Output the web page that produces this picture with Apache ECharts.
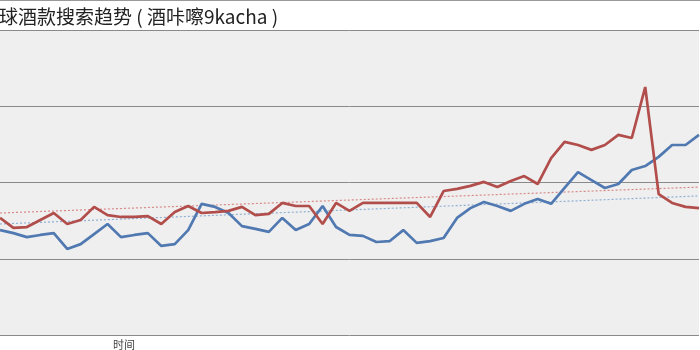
<!DOCTYPE html>
<html>
<head>
<meta charset="utf-8">
<script src="https://cdn.jsdelivr.net/npm/echarts@6/dist/echarts.min.js"></script>
<style>html,body{margin:0;padding:0;background:#fff;}#c{width:700px;height:350px;}</style>
</head>
<body>
<div id="c"></div>
<script>
var titleText = '球酒款搜索趋势 ( 酒咔嚓9kacha )';
var xName = '时间';
var weeks = [];
for (var k = 1; k <= 53; k++) { weeks.push('W' + k); }
var redValues = [38.4,35.1,35.4,37.7,40.0,36.4,37.7,42.0,39.3,38.7,38.7,39.0,36.4,40.3,42.3,40.0,40.3,40.7,42.0,39.3,39.7,43.3,42.3,42.3,36.4,43.3,40.7,43.3,43.3,43.3,43.3,43.3,38.7,47.2,47.9,48.9,50.2,48.5,50.5,52.1,49.5,58.0,63.3,62.3,60.7,62.3,65.6,64.6,81.3,46.2,43.3,42.0,41.6];
var blueValues = [34.4,33.4,32.1,32.8,33.4,28.2,29.8,33.1,36.4,32.1,32.8,33.4,29.2,29.8,34.4,43.0,42.0,40.0,35.7,34.8,33.8,38.4,34.4,36.4,42.3,35.4,32.8,32.5,30.5,30.8,34.4,30.2,30.8,31.8,38.4,41.6,43.6,42.3,40.7,43.0,44.6,43.0,48.2,53.4,50.8,48.2,49.5,54.1,55.4,58.4,62.3,62.3,65.6];
var redTrendEnds = [40.0, 48.5];
var blueTrendEnds = [36.4, 45.6];

function trend(ends) {
  var arr = [];
  for (var i = 0; i < weeks.length; i++) arr.push(null);
  arr[0] = ends[0];
  arr[weeks.length - 1] = ends[1];
  return arr;
}

var chart = echarts.init(document.getElementById('c'), null, {renderer: 'canvas'});
chart.setOption({
  animation: false,
  backgroundColor: '#ffffff',
  title: {
    text: titleText,
    left: -6,
    top: 2,
    textStyle: {fontFamily: 'Noto Sans CJK SC', fontSize: 19, fontWeight: 'normal', color: '#222'}
  },
  grid: {left: -2, right: 1, top: 30, bottom: 15, show: true, backgroundColor: '#efefef', borderWidth: 0},
  xAxis: {
    type: 'category', data: weeks, boundaryGap: false,
    axisLine: {show: false}, axisTick: {show: false}, axisLabel: {show: false}, splitLine: {show: false}
  },
  yAxis: {
    type: 'value', min: 0, max: 100, interval: 25,
    axisLine: {show: false}, axisTick: {show: false}, axisLabel: {show: false},
    splitLine: {show: true, lineStyle: {color: '#8a8a8a', width: 1}}
  },
  graphic: [
    {type: 'line', shape: {x1: 0, y1: 0.5, x2: 700, y2: 0.5}, style: {stroke: '#999', lineWidth: 1}},
    {type: 'text', left: 113, top: 339, style: {text: xName, fontFamily: 'Noto Sans CJK SC', fontSize: 11, fill: '#444'}}
  ],
  series: [
    {type: 'line', data: trend(redTrendEnds), connectNulls: true, symbol: 'none', lineStyle: {color: '#d98a88', width: 1.2, type: [2, 2]}, z: 1},
    {type: 'line', data: trend(blueTrendEnds), connectNulls: true, symbol: 'none', lineStyle: {color: '#8fb0d4', width: 1.2, type: [2, 2]}, z: 1},
    {type: 'line', data: blueValues, symbol: 'none', lineStyle: {color: '#5179b1', width: 2.7}, z: 3},
    {type: 'line', data: redValues, symbol: 'none', lineStyle: {color: '#b14e4b', width: 2.7}, z: 4}
  ]
});
</script>
</body>
</html>
